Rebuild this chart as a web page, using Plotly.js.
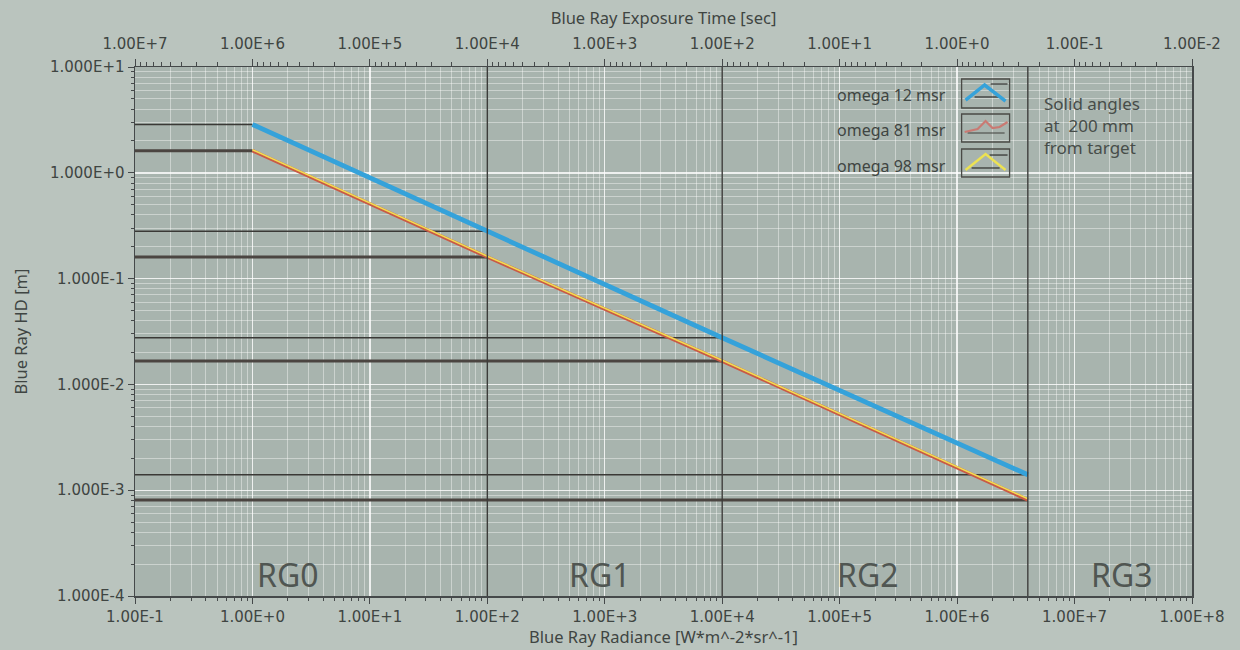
<!DOCTYPE html>
<html>
<head>
<meta charset="utf-8">
<script src="https://cdn.plot.ly/plotly-3.0.1.min.js"></script>
<style>html,body{margin:0;padding:0;background:#bac4be;}#chart{width:1240px;height:650px;}</style>
</head>
<body>
<div id="chart"></div>
<script>
// ---- data ----
const boundaries = [1, 100, 10000, 4000000];            // radiance [W*m^-2*sr^-1]
const blueHD   = [2.86, 0.28, 0.0276, 0.0014];          // omega 12 msr
const redHD    = [1.62, 0.16, 0.0166, 0.00081];         // omega 81 msr
const yellowHD = [1.65, 0.163, 0.0169, 0.00083];        // omega 98 msr
const seriesNames = ["omega 12 msr", "omega 81 msr", "omega 98 msr"];
const bottomTicks = [0.1, 1, 10, 100, 1e3, 1e4, 1e5, 1e6, 1e7, 1e8];
const bottomTickText = ["1.00E-1","1.00E+0","1.00E+1","1.00E+2","1.00E+3","1.00E+4","1.00E+5","1.00E+6","1.00E+7","1.00E+8"];
const topTicks = [1e7, 1e6, 1e5, 1e4, 1e3, 100, 10, 1, 0.1, 0.01];
const topTickText = ["1.00E+7","1.00E+6","1.00E+5","1.00E+4","1.00E+3","1.00E+2","1.00E+1","1.00E+0","1.00E-1","1.00E-2"];
const leftTicks = [10, 1, 0.1, 0.01, 0.001, 0.0001];
const leftTickText = ["1.000E+1","1.000E+0","1.000E-1","1.000E-2","1.000E-3","1.000E-4"];
const zoneLabels = ["RG0", "RG1", "RG2", "RG3"];
const sideNote = "Solid angles<br>at  200 mm<br>from target";

// ---- layout geometry (pixels) ----
const L = 135, R = 1192.5, T = 67, B = 596;
const W = 1240, H = 650;
const px = v => (v - L) / (R - L);
const py = v => (B - v) / (B - T);

const font = "Noto Sans, DejaVu Sans, sans-serif";
const tickFontFamily = "DejaVu Sans, Noto Sans, sans-serif";
const txt = "#3f4542";
const xmin = bottomTicks[0];

// minor tick / grid positions (2..9 within each decade of an axis)
function minorVals(decades) {
  const out = [];
  decades.forEach(d => { for (let k = 2; k <= 9; k++) out.push(d * k); });
  return out;
}
const minorX = minorVals(bottomTicks.slice(0, -1));
const minorTop = minorVals(topTicks.slice(1));
const minorY = minorVals(leftTicks.slice(1));

const traces = [];
// horizontal level lines (thin for blue, thick for red/yellow)
boundaries.forEach((b, i) => {
  traces.push({x: [xmin, b], y: [blueHD[i], blueHD[i]], mode: "lines", line: {color: "#3a3936", width: 1.4}, hoverinfo: "skip", showlegend: false});
  traces.push({x: [xmin, b], y: [redHD[i], redHD[i]], mode: "lines", line: {color: "#4b4541", width: 3}, hoverinfo: "skip", showlegend: false});
});
traces.push({x: boundaries, y: redHD, name: seriesNames[1], mode: "lines", line: {color: "#c95a45", width: 3.5}, showlegend: false});
traces.push({x: boundaries, y: yellowHD, name: seriesNames[2], mode: "lines", line: {color: "#f2dc52", width: 1.6}, showlegend: false});
traces.push({x: boundaries, y: blueHD, name: seriesNames[0], mode: "lines", line: {color: "#35a2da", width: 4.8}, showlegend: false});
// invisible trace to anchor the top axis
traces.push({x: [topTicks[0], topTicks[topTicks.length-1]], y: [leftTicks[0], leftTicks[0]], xaxis: "x2", mode: "markers", marker: {opacity: 0}, hoverinfo: "skip", showlegend: false});

const gridMajor = "rgba(255,255,255,0.8)";
const gridMinor = "rgba(255,255,255,0.4)";

const shapes = [];
// zone boundaries
boundaries.slice(1).forEach(b => {
  shapes.push({type: "line", xref: "x", yref: "paper", x0: b, x1: b, y0: 0, y1: 1, line: {color: "#3c3c3a", width: 1.4}});
});
// legend boxes
const boxes = [[79, 108], [114, 142], [149, 177]];
boxes.forEach(([y0, y1]) => {
  shapes.push({type: "rect", xref: "paper", yref: "paper", x0: px(962), x1: px(1010), y0: py(y1), y1: py(y0), line: {color: "#4a4a46", width: 1.3}, fillcolor: "rgba(0,0,0,0)"});
});
function path(points) {
  return points.map((p, i) => (i ? "L" : "M") + px(p[0]).toFixed(4) + "," + py(p[1]).toFixed(4)).join(" ");
}
// icon 1: blue
shapes.push({type: "path", xref: "paper", yref: "paper", path: path([[975, 97], [1002, 97]]), line: {color: "#2e2e2c", width: 1.2}});
shapes.push({type: "path", xref: "paper", yref: "paper", path: path([[991, 84], [1008, 84]]), line: {color: "#2e2e2c", width: 1.2}});
shapes.push({type: "path", xref: "paper", yref: "paper", path: path([[966, 100], [985, 85], [1006, 101]]), line: {color: "#35a2da", width: 3.5}});
// icon 2: red
shapes.push({type: "path", xref: "paper", yref: "paper", path: path([[968, 133], [1005, 133]]), line: {color: "#3e3e3a", width: 1.2}});
shapes.push({type: "path", xref: "paper", yref: "paper", path: path([[965, 132], [978, 129], [986, 121], [993, 128], [1000, 127], [1008, 122]]), line: {color: "#c97a73", width: 2.2}});
// icon 3: yellow
shapes.push({type: "path", xref: "paper", yref: "paper", path: path([[972, 168], [1000, 168]]), line: {color: "#2e2e2c", width: 1.2}});
shapes.push({type: "path", xref: "paper", yref: "paper", path: path([[990, 155], [1008, 155]]), line: {color: "#2e2e2c", width: 1.2}});
shapes.push({type: "path", xref: "paper", yref: "paper", path: path([[966, 170], [986, 154], [1006, 170]]), line: {color: "#ece252", width: 2.5}});

const annotations = [];
const labelY = [95, 130, 166];
seriesNames.forEach((n, i) => {
  annotations.push({xref: "paper", yref: "paper", x: px(948), y: py(labelY[i]), xanchor: "right", yanchor: "middle", text: n, showarrow: false, font: {family: font, size: 16, color: txt}});
});
annotations.push({xref: "paper", yref: "paper", x: px(1042), y: py(90), xanchor: "left", yanchor: "top", align: "left", text: sideNote, showarrow: false, font: {family: font, size: 17, color: "#474d49"}});
const zoneX = [288, 600, 868, 1122];
zoneLabels.forEach((z, i) => {
  annotations.push({xref: "paper", yref: "paper", x: px(zoneX[i]), y: py(574), xanchor: "center", yanchor: "middle", text: z, showarrow: false, font: {family: font, size: 32, color: "#505652"}});
});

const axisCommon = {
  type: "log",
  showline: true, linecolor: "#45494a", linewidth: 1.5, mirror: false,
  ticks: "outside", ticklen: 6, tickcolor: "#45494a", tickwidth: 1,
  showgrid: true, gridcolor: gridMajor, gridwidth: 1.4,
  tickfont: {family: tickFontFamily, size: 15, color: txt},
  zeroline: false
};
const minorStyle = vals => ({tickmode: "array", tickvals: vals, ticks: "outside", ticklen: 3, tickcolor: "#45494a", showgrid: true, gridcolor: gridMinor, gridwidth: 1});
const titleFont = {family: font, size: 16.5, color: txt};

const layout = {
  width: W, height: H,
  paper_bgcolor: "#bac4be",
  plot_bgcolor: "#a8b4ae",
  margin: {l: L, r: W - R, t: T, b: H - B, pad: 0},
  showlegend: false,
  xaxis: Object.assign({}, axisCommon, {
    range: [Math.log10(bottomTicks[0]), Math.log10(bottomTicks[bottomTicks.length-1])],
    tickmode: "array", tickvals: bottomTicks, ticktext: bottomTickText,
    minor: minorStyle(minorX),
    title: {text: "Blue Ray Radiance [W*m^-2*sr^-1]", font: titleFont, standoff: 7},
    mirror: true
  }),
  xaxis2: Object.assign({}, axisCommon, {
    overlaying: "x", side: "top", anchor: "y",
    range: [Math.log10(topTicks[0]), Math.log10(topTicks[topTicks.length-1])],
    tickmode: "array", tickvals: topTicks, ticktext: topTickText,
    showgrid: false, ticklen: 7, ticklabelstandoff: 4,
    minor: Object.assign(minorStyle(minorTop), {showgrid: false, ticklen: 4}),
    title: {text: "Blue Ray Exposure Time [sec]", font: titleFont, standoff: 5}
  }),
  yaxis: Object.assign({}, axisCommon, {
    range: [Math.log10(leftTicks[leftTicks.length-1]), Math.log10(leftTicks[0])],
    tickmode: "array", tickvals: leftTicks, ticktext: leftTickText,
    minor: minorStyle(minorY),
    title: {text: "Blue Ray HD [m]", font: titleFont, standoff: 18},
    mirror: true
  }),
  shapes: shapes,
  annotations: annotations
};

Plotly.newPlot("chart", traces, layout, {staticPlot: true, displayModeBar: false});
</script>
</body>
</html>
